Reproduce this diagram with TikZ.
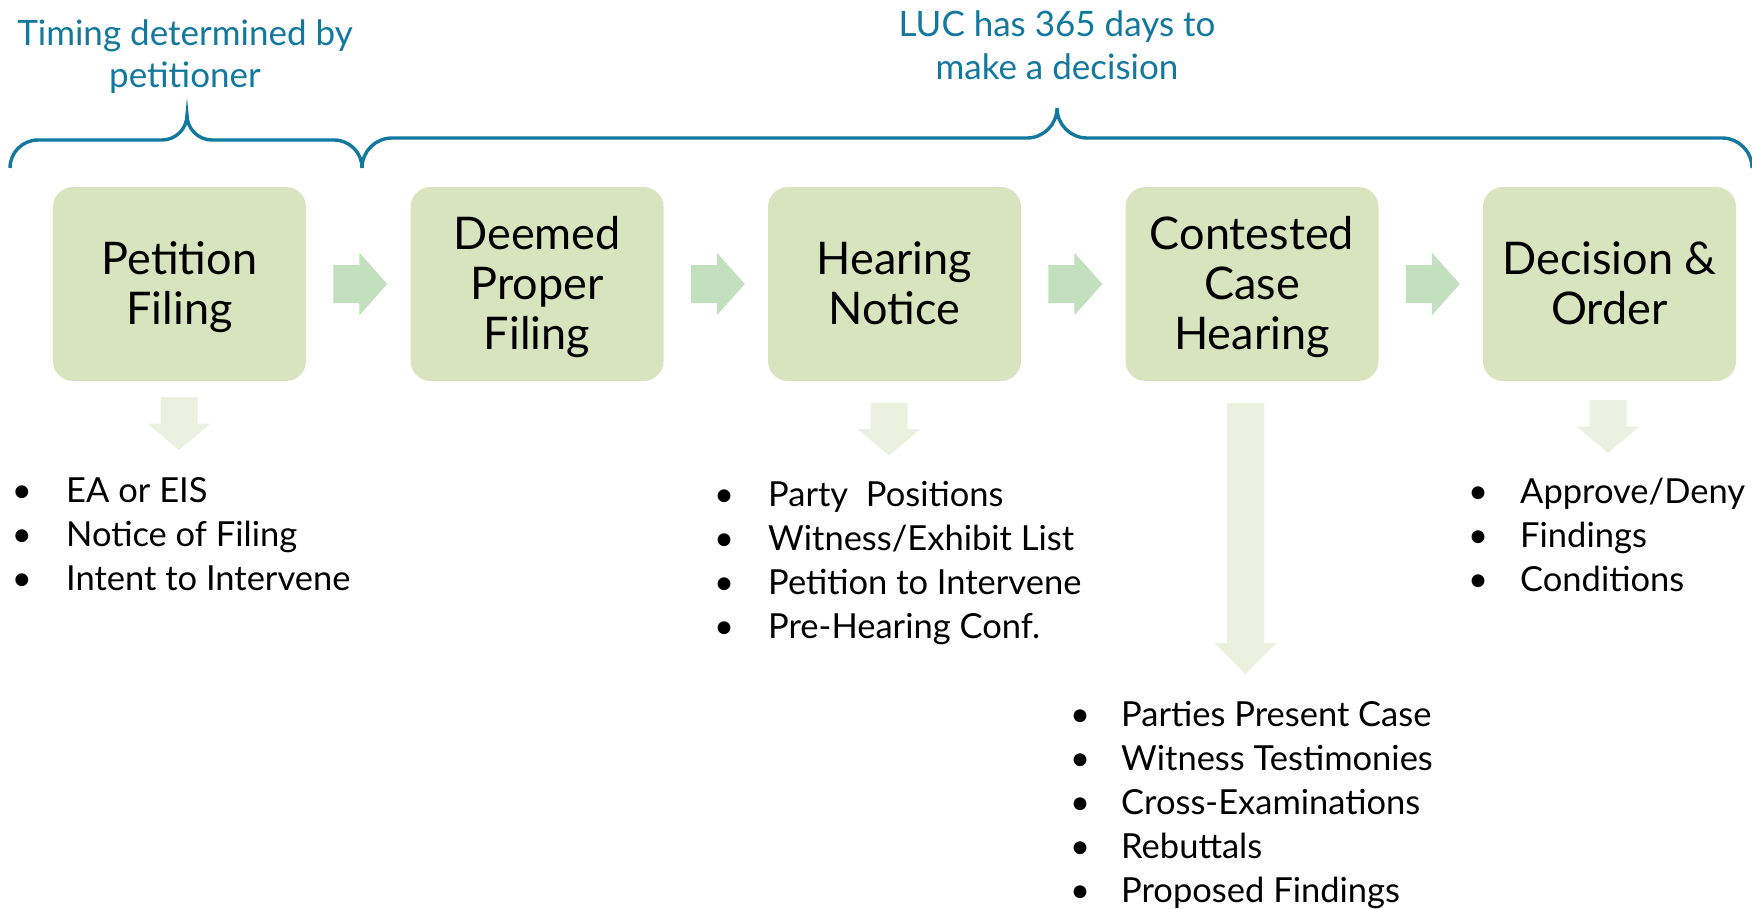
\documentclass[tikz,border=0pt]{standalone}
\usepackage{fontspec}
\setmainfont{Lato}
\usetikzlibrary{calc}
\definecolor{boxfill}{HTML}{D8E4BE}
\definecolor{rarrfill}{HTML}{C2E0BD}
\definecolor{darrfill}{HTML}{EBF0DF}
\definecolor{bracecol}{HTML}{13789E}
\newcommand\steptext[1]{\rule{0pt}{40pt}#1\rule[-10pt]{0pt}{10pt}}
\begin{document}
\begin{tikzpicture}[x=1pt,y=-1pt,
  stepbox/.style={fill=boxfill, rounded corners=20pt, minimum width=253pt, minimum height=194pt, align=center, font=\fontsize{45}{50}\selectfont, inner sep=0pt},
  toplabel/.style={text=bracecol, font=\fontsize{35}{42}\selectfont, anchor=base, inner sep=0pt},
  bullettext/.style={font=\fontsize{34.5}{44}\selectfont, anchor=base west, inner sep=0pt},
  bulletdot/.style={font=\fontsize{34.5}{44}\selectfont, anchor=base, inner sep=0pt},
  bracepath/.style={draw=bracecol, line width=3.4pt},
  rarrow/.pic={\fill[rarrfill] (-27,-19) -- (-1,-19) -- (-1,-31.5) -- (27,0) -- (-1,31.5) -- (-1,19) -- (-27,19) -- cycle;},
  darrow/.pic={\fill[darrfill] (-18.5,-26.5) -- (18.5,-26.5) -- (18.5,0) -- (31.5,0) -- (0,26.5) -- (-31.5,0) -- (-18.5,0) -- cycle;},
]
\useasboundingbox (0,0) rectangle (1752,908);

% braces
\draw[bracepath] (10,168) .. controls (10,152.5) and (22.5,140) .. (38,140) -- (162,140)
  .. controls (175.8,140) and (187,128.8) .. (187,115)
  .. controls (187,128.8) and (198.2,140) .. (212,140) -- (334,140)
  .. controls (349.5,140) and (362,152.5) .. (362,168);
\draw[bracepath] (362,168) .. controls (362,151.4) and (375.4,138) .. (392,138) -- (1027,138)
  .. controls (1043.5,138) and (1057,124.5) .. (1057,108)
  .. controls (1057,124.5) and (1070.5,138) .. (1087,138) -- (1722,138)
  .. controls (1738.5,138) and (1752,151.4) .. (1752,168);

% top labels
\node[toplabel] (tl1) at (185,45) {Timing determined by};
\node[toplabel] (tl2) at (185,87) {petitioner};
\node[toplabel] (tr1) at (1057,36) {LUC has 365 days to};
\node[toplabel] (tr2) at (1057,79) {make a decision};

% boxes
\node[stepbox] (b1) at (179.5,284) {\steptext{Petition\\Filing}};
\node[stepbox] (b2) at (537,284) {\steptext{Deemed\\Proper\\Filing}};
\node[stepbox] (b3) at (894.5,284) {\steptext{Hearing\\Notice}};
\node[stepbox] (b4) at (1252,284) {\steptext{Contested\\Case\\Hearing}};
\node[stepbox] (b5) at (1609.5,284) {\steptext{Decision \&\\Order}};

% right arrows
\pic at ($(b1.east)!0.5!(b2.west)+(2,0)$) {rarrow};
\pic at ($(b2.east)!0.5!(b3.west)+(2,0)$) {rarrow};
\pic at ($(b3.east)!0.5!(b4.west)+(2,0)$) {rarrow};
\pic at ($(b4.east)!0.5!(b5.west)+(2,0)$) {rarrow};

% down arrows
\pic at (179,423.5) {darrow};
\pic at (889,429) {darrow};
\pic at (1608,426.5) {darrow};
\fill[darrfill] (1227,403) -- (1264,403) -- (1264,643) -- (1276.5,643) -- (1245.5,674) -- (1214.5,643) -- (1227,643) -- cycle;

% bullet lists
\foreach \t [count=\i] in {EA or EIS, Notice of Filing, Intent to Intervene} {
  \node[bulletdot] (la\i) at (22,{502+(\i-1)*44}) {•};
  \node[bullettext] (lta\i) at (66,{502+(\i-1)*44}) {\t};
}
\foreach \t [count=\i] in {Party~~Positions, Witness/Exhibit List, Petition to Intervene, Pre-Hearing Conf.} {
  \node[bulletdot] (lb\i) at (724,{506+(\i-1)*44}) {•};
  \node[bullettext] (ltb\i) at (768,{506+(\i-1)*44}) {\t};
}
\foreach \t [count=\i] in {Parties Present Case, Witness Testimonies, Cross-Examinations, Rebuttals, Proposed Findings} {
  \node[bulletdot] (lc\i) at (1080,{726+(\i-1)*44}) {•};
  \node[bullettext] (ltc\i) at (1121,{726+(\i-1)*44}) {\t};
}
\foreach \t [count=\i] in {Approve/Deny, Findings, Conditions} {
  \node[bulletdot] (ld\i) at (1478,{503+(\i-1)*44}) {•};
  \node[bullettext] (ltd\i) at (1520,{503+(\i-1)*44}) {\t};
}
\end{tikzpicture}
\end{document}
